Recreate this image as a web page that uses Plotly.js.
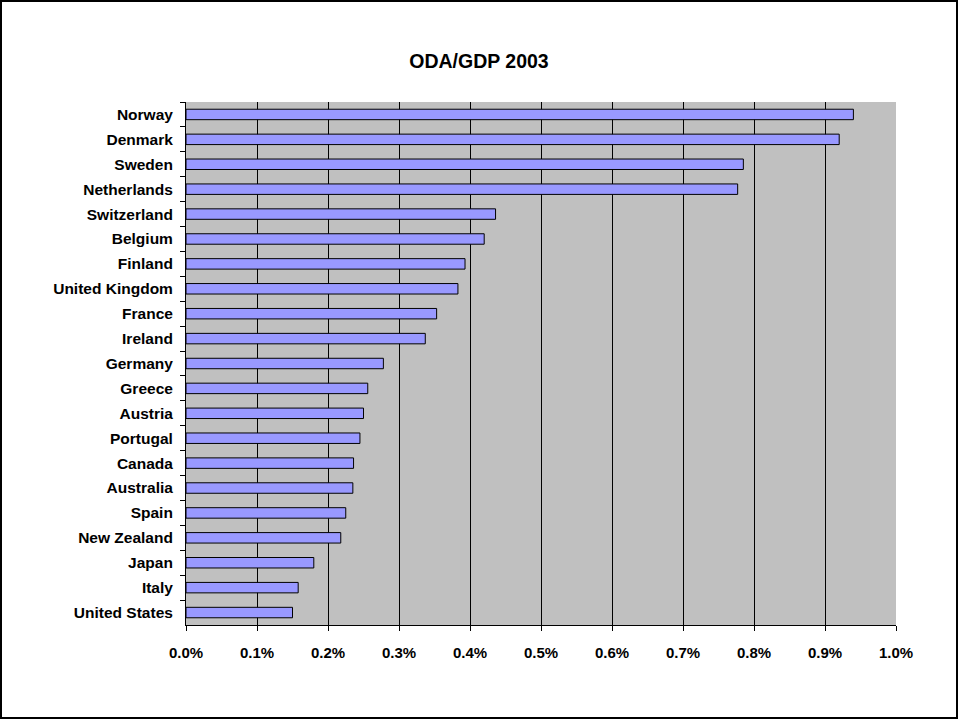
<!DOCTYPE html>
<html>
<head>
<meta charset="utf-8">
<script src="https://cdn.plot.ly/plotly-3.0.1.min.js"></script>
<style>
html,body{margin:0;padding:0;background:#fff;}
#wrap{position:relative;width:958px;height:720px;}
#chart{width:958px;height:720px;}
#frame{position:absolute;left:0;top:0;width:958px;height:719px;box-sizing:border-box;border:2px solid #000;pointer-events:none;z-index:10;}
</style>
</head>
<body>
<div id="wrap"><div id="chart"></div><div id="frame"></div></div>
<script>
const countries = ["Norway","Denmark","Sweden","Netherlands","Switzerland","Belgium","Finland","United Kingdom","France","Ireland","Germany","Greece","Austria","Portugal","Canada","Australia","Spain","New Zealand","Japan","Italy","United States"];
const odaGdp = [0.0094,0.0092,0.00785,0.00777,0.00436,0.0042,0.00393,0.00383,0.00353,0.00337,0.00278,0.00256,0.0025,0.00245,0.00236,0.00235,0.00225,0.00218,0.0018,0.00158,0.0015];
const xTicks = [0,0.001,0.002,0.003,0.004,0.005,0.006,0.007,0.008,0.009,0.010];

const FONT = 'Liberation Sans, Arial, sans-serif';
const trace = {
  type: 'bar',
  orientation: 'h',
  y: countries,
  x: odaGdp,
  width: 0.42,
  marker: {color: '#9999ff', line: {color: '#000000', width: 1}},
  hoverinfo: 'x+y'
};
const layout = {
  width: 958, height: 720,
  margin: {l: 186, r: 62, t: 102, b: 95, pad: 0},
  paper_bgcolor: '#ffffff',
  plot_bgcolor: '#c0c0c0',
  showlegend: false,
  title: {text: '<b>ODA/GDP 2003</b>', x: 0.5, xref: 'container', xanchor: 'center', y: 1 - 61/720, yanchor: 'middle',
          font: {family: FONT, size: 19.5, color: '#000'}},
  font: {family: FONT, color: '#000'},
  xaxis: {
    range: [0, 0.010], tickvals: xTicks, tickformat: '.1%',
    showgrid: true, gridcolor: '#000', gridwidth: 1,
    showline: true, linecolor: '#000', linewidth: 1,
    ticks: 'outside', ticklen: 5, tickcolor: '#000',
    tickfont: {family: FONT, size: 15, color: '#000', weight: 'bold'},
    ticklabelstandoff: 9, zeroline: false, fixedrange: true
  },
  yaxis: {
    type: 'category', autorange: 'reversed',
    showgrid: false, showline: true, linecolor: '#000', linewidth: 1,
    ticks: 'outside', ticklen: 5, tickcolor: '#000', tickson: 'boundaries',
    tickfont: {family: FONT, size: 15.5, color: '#000', weight: 'bold'},
    ticklabelstandoff: 9, fixedrange: true
  }
};
Plotly.newPlot('chart', [trace], layout, {displayModeBar: false, staticPlot: true});
</script>
</body>
</html>
